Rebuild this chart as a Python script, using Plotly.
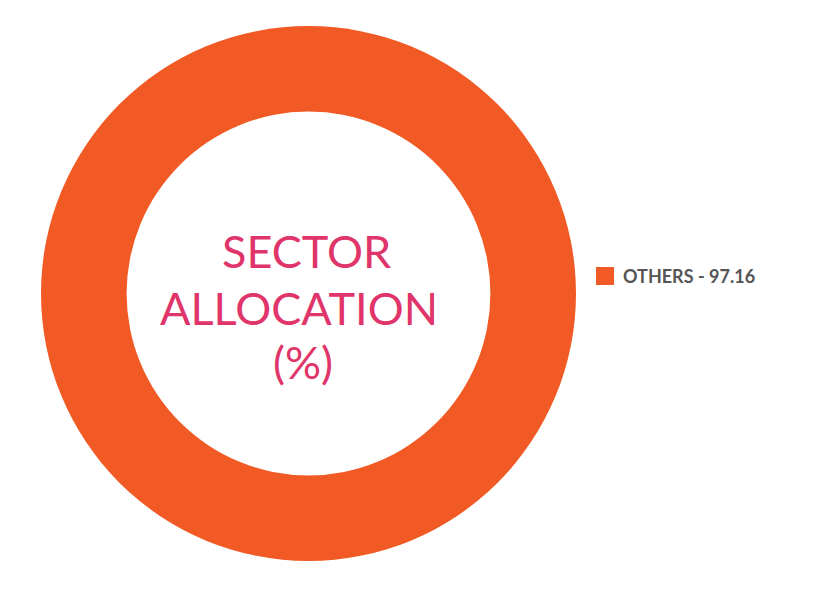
import plotly.graph_objects as go

categories = ["OTHERS"]
values = [97.16]
colors = ["#F15A24"]
center_title = ["SECTOR", "ALLOCATION", "(%)"]

W, H = 827, 598
OFF = 8  # page body margin


def px(x):
    return (x - OFF) / W


def py(y):
    return (H - (y - OFF)) / H


fig = go.Figure(go.Pie(
    labels=categories,
    values=values,
    hole=0.68,
    marker=dict(colors=colors, line=dict(width=0)),
    textinfo="none",
    hoverinfo="label+value",
    sort=False,
    domain=dict(x=[px(41), px(576)], y=[py(561), py(26)]),
    showlegend=False,
))

# centre title, one annotation per line
line_pos = [(306, 251), (298.5, 308), (303, 362)]
for txt, (cx, cy) in zip(center_title, line_pos):
    fig.add_annotation(
        x=px(cx), y=py(cy), xref="paper", yref="paper",
        text=txt, showarrow=False,
        font=dict(family="Lato", size=45, color="#E0356A"),
        xanchor="center", yanchor="middle",
    )

# legend (drawn manually for larger swatch)
for i, (c, v, col) in enumerate(zip(categories, values, colors)):
    yc = 276 + i * 30
    fig.add_shape(
        type="rect", xref="paper", yref="paper",
        x0=px(596), x1=px(614), y0=py(yc + 9), y1=py(yc - 9),
        fillcolor=col, line=dict(width=0),
    )
    fig.add_annotation(
        x=px(621), y=py(yc), xref="paper", yref="paper",
        text=f"{c} - {v}", showarrow=False,
        font=dict(family="Lato", size=18, color="#555555", weight="bold"),
        xanchor="left", yanchor="middle",
    )

fig.update_layout(
    width=W, height=H,
    margin=dict(l=0, r=0, t=0, b=0),
    paper_bgcolor="white", plot_bgcolor="white",
    showlegend=False,
)

fig.write_html("out.html")
